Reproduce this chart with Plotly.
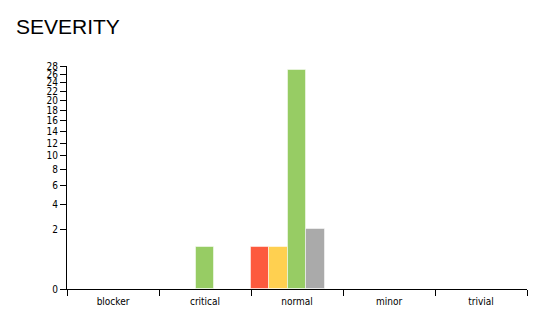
import math
import plotly.graph_objects as go

categories = ["blocker", "critical", "normal", "minor", "trivial"]
statuses = ["failed", "broken", "passed", "skipped", "unknown"]
colors = ["#fd5a3e", "#ffd050", "#97cc64", "#aaaaaa", "#d35ebe"]
failed = [0, 0, 1, 0, 0]
broken = [0, 0, 1, 0, 0]
passed = [0, 1, 27, 0, 0]
skipped = [0, 0, 2, 0, 0]
unknown = [0, 0, 0, 0, 0]
y_ticks = [0, 2, 4, 6, 8, 10, 12, 14, 16, 18, 20, 22, 24, 26, 28]
y_max = 28

series = [failed, broken, passed, skipped, unknown]

def sq(v):
    return math.sqrt(v)

fig = go.Figure()
for name, vals, col in zip(statuses, series, colors):
    fig.add_trace(go.Bar(
        x=categories,
        y=[sq(v) if v > 0 else None for v in vals],
        name=name,
        marker=dict(color=col, line=dict(color="rgba(255,255,255,0.5)", width=1)),
        customdata=vals,
        hovertemplate="%{customdata}<extra>" + name + "</extra>",
    ))

fig.update_layout(
    width=559, height=320,
    margin=dict(l=67, r=32, t=66, b=31),
    paper_bgcolor="white", plot_bgcolor="white",
    barmode="group", bargap=0, bargroupgap=0,
    showlegend=False,
    font=dict(family="DejaVu Sans Condensed, DejaVu Sans", size=10, color="#000"),
    title=dict(text="SEVERITY", x=16/559, xref="container", xanchor="left",
               y=1, yref="container", yanchor="top", pad=dict(t=19),
               font=dict(family="Liberation Sans, Arial", size=21, color="#000")),
)
fig.update_xaxes(
    type="category", showline=True, linecolor="#000", linewidth=1,
    ticks="outside", ticklen=6, tickcolor="#000", tickson="boundaries",
    ticklabelstandoff=3,
    showgrid=False, zeroline=False, fixedrange=True,
)
fig.update_yaxes(
    range=[0, sq(y_max)], showline=True, linecolor="#000", linewidth=1,
    tickvals=[sq(t) for t in y_ticks], ticktext=[str(t) for t in y_ticks],
    ticks="outside", ticklen=6, tickcolor="#000",
    showgrid=False, zeroline=False, fixedrange=True,
)
fig.write_html("out.html")
